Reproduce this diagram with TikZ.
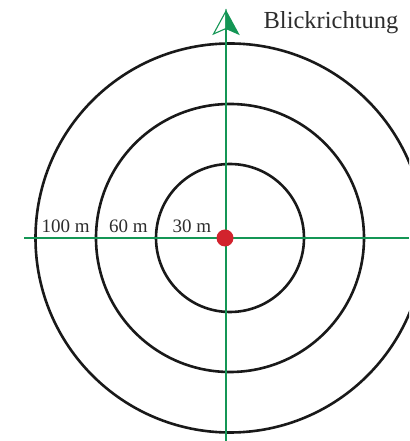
\documentclass[tikz,border=0pt]{standalone}
\usepackage{fontspec}
\setmainfont{Liberation Serif}
\definecolor{viewgreen}{RGB}{20,150,85}
\definecolor{dotred}{RGB}{210,35,45}
\definecolor{txtgray}{RGB}{45,45,45}
\tikzset{
  ring/.style={draw=black!90, line width=2.6pt},
  axis/.style={draw=viewgreen, line width=2pt},
  dist/.style={text=txtgray, font=\fontsize{19}{19}\selectfont, anchor=base, inner sep=0pt},
  title/.style={text=txtgray, font=\fontsize{24.5}{24.5}\selectfont, anchor=base, inner sep=0pt},
}
\begin{document}
\begin{tikzpicture}[x=1pt,y=1pt]
\clip (0,0) rectangle (409,441);
\useasboundingbox (0,0) rectangle (409,441);
\coordinate (c) at (230,203);
\draw[ring] (c) circle[radius=74];
\draw[ring] (c) circle[radius=134];
\draw[ring] (c) circle[radius=194.5];
\coordinate (hl) at (24,203);
\coordinate (hr) at (409,203);
\coordinate (vb) at (226,0);
\coordinate (tip) at (226,430);
\coordinate (lw) at (213.5,407);
\coordinate (rw) at (238.5,407);
\coordinate (notch) at (226,412.5);
\draw[axis] (hl) -- (hr);
\draw[axis] (vb) -- (notch);
\filldraw[draw=viewgreen, fill=white, line width=1.1pt, line join=miter] (tip) -- (lw) -- (notch) -- cycle;
\filldraw[draw=viewgreen, fill=viewgreen, line width=1.1pt, line join=miter] (tip) -- (notch) -- (rw) -- cycle;
\node[circle, fill=dotred, minimum size=17pt, inner sep=0pt] (d) at (225,203) {};
\node[dist] (l100) at (65.7,208.7) {100 m};
\node[dist] (l60) at (128.5,208.7) {60 m};
\node[dist] (l30) at (192,208.7) {30 m};
\node[title] (bl) at (331,412.7) {Blickrichtung};
\end{tikzpicture}
\end{document}
